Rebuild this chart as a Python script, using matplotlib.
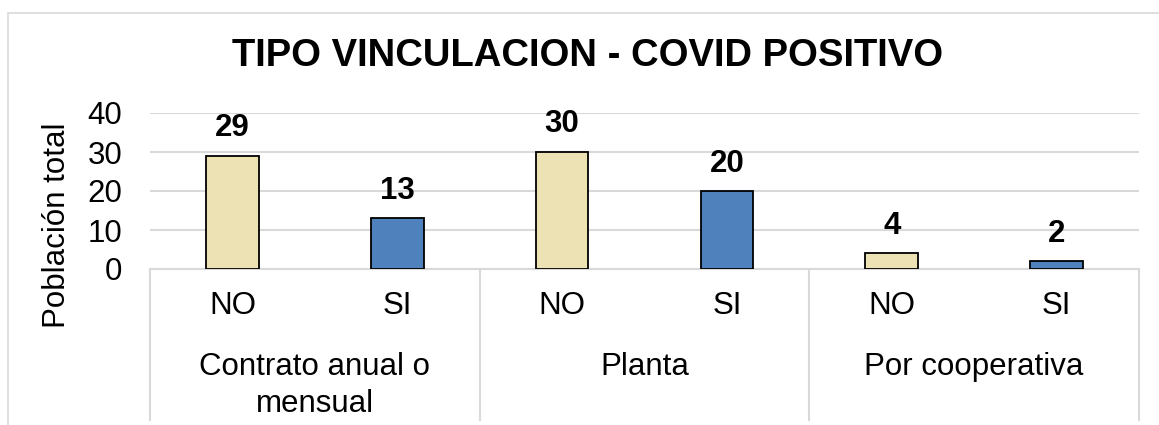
import matplotlib.pyplot as plt
from matplotlib.patches import Rectangle

plt.rcParams['font.family'] = ['Liberation Sans', 'DejaVu Sans']

groups = ['Contrato anual o\nmensual', 'Planta', 'Por cooperativa']
answers = ['NO', 'SI', 'NO', 'SI', 'NO', 'SI']
values = [29, 13, 30, 20, 4, 2]
colors = ['#ECE2B4', '#4F81BD', '#ECE2B4', '#4F81BD', '#ECE2B4', '#4F81BD']

W, H = 1159, 425
fig = plt.figure(figsize=(W / 100, H / 100), dpi=100)

# outer chart frame
fig.patches.append(Rectangle((8 / W, -0.1), 1.2, (H - 13) / H + 0.1,
                             transform=fig.transFigure, fill=False,
                             edgecolor='#D9D9D9', linewidth=1.2))

ax = fig.add_axes([150 / W, (H - 269) / H, (1139 - 150) / W, 156 / H])
x = list(range(len(values)))
ax.bar(x, values, width=0.32, color=colors, edgecolor='black', linewidth=1.3, zorder=3)
ax.set_xlim(-0.5, len(values) - 0.5)
ax.set_ylim(0, 40)
ax.set_yticks([0, 10, 20, 30, 40])
ax.yaxis.grid(True, color='#D9D9D9', linewidth=1.5)
ax.set_axisbelow(True)
for s in ['top', 'right', 'left']:
    ax.spines[s].set_visible(False)
ax.spines['bottom'].set_color('#D9D9D9')
ax.spines['bottom'].set_linewidth(1.5)
ax.tick_params(axis='y', length=0, labelsize=22.5, pad=20)
ax.tick_params(axis='x', length=0, labelsize=22.5, pad=16)
ax.set_xticks(x)
ax.set_xticklabels(answers)

for xi, v in zip(x, values):
    ax.annotate(str(v), (xi, v), xytext=(0, 9), textcoords='offset points',
                ha='center', va='bottom', fontsize=22.5, fontweight='bold')

# group separators and labels
trans = ax.get_xaxis_transform()
for b in [-0.5, 1.5, 3.5, 5.5]:
    ax.plot([b, b], [0, -0.97], transform=trans, color='#D9D9D9',
            linewidth=1.5, clip_on=False)
for i, g in enumerate(groups):
    ax.text(2 * i + 0.5, -0.53, g, transform=trans, ha='center', va='top',
            fontsize=22.5, linespacing=1.3)

ax.set_ylabel('Población total', fontsize=22.5)
ax.yaxis.set_label_coords(-0.079, 0.28)

fig.text(588 / W, 1 - 56 / H, 'TIPO VINCULACION - COVID POSITIVO',
         ha='center', va='center', fontsize=27.5, fontweight='bold')

fig.savefig('out.png', dpi=100)
